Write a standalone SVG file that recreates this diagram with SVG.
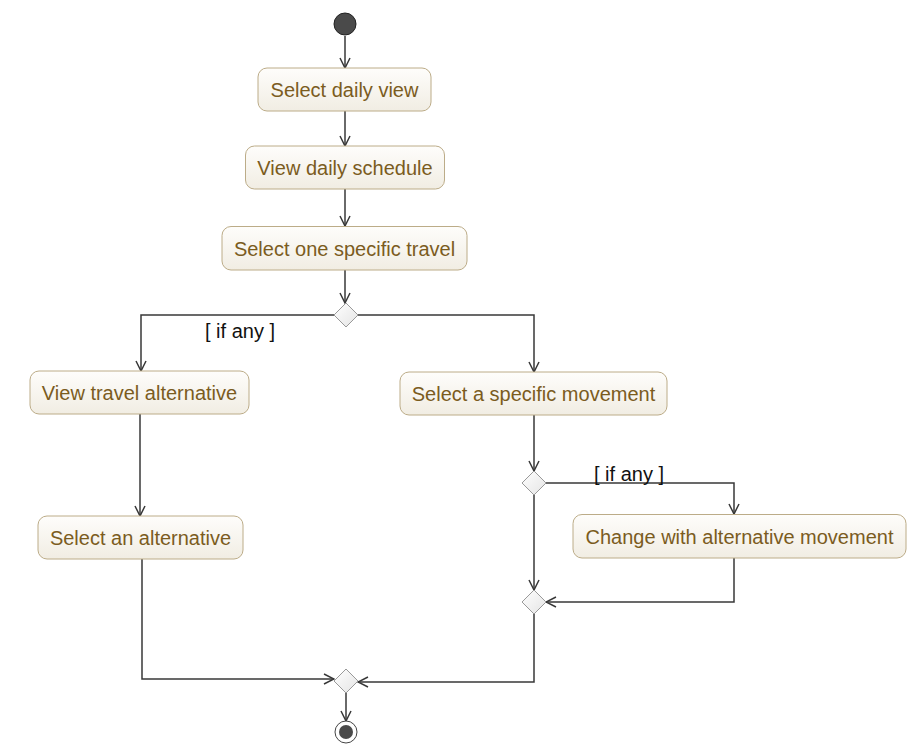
<svg xmlns="http://www.w3.org/2000/svg" width="923" height="756" viewBox="0 0 923 756">
<defs>
<linearGradient id="boxg" x1="0" y1="0" x2="0" y2="1">
<stop offset="0" stop-color="#fefdfb"/>
<stop offset="1" stop-color="#f1ede3"/>
</linearGradient>
<linearGradient id="diag" x1="0" y1="0" x2="1" y2="1">
<stop offset="0" stop-color="#ffffff"/>
<stop offset="1" stop-color="#e4e4e4"/>
</linearGradient>
<marker id="arr" viewBox="0 0 12 12" refX="11" refY="6" markerWidth="12" markerHeight="12" markerUnits="userSpaceOnUse" orient="auto">
<path d="M1,1 L11,6 L1,11" fill="none" stroke="#383838" stroke-width="1.5"/>
</marker>
<style>
.box{fill:url(#boxg);stroke:#bcac88;stroke-width:1}
.lbl{font-family:"Liberation Sans",Arial,sans-serif;font-size:20px;fill:#7b5c1e;text-anchor:middle}
.guard{font-family:"Liberation Sans",Arial,sans-serif;font-size:20px;fill:#111}
.dia{fill:url(#diag);stroke:#999;stroke-width:1}
.c{fill:none;stroke:#383838;stroke-width:1.5}
.ca{fill:none;stroke:#383838;stroke-width:1.5;marker-end:url(#arr)}
</style>
</defs>
<g id="connectors">
<path class="ca" d="M345,36 V68"/>
<path class="ca" d="M345,111 V146"/>
<path class="ca" d="M345,189 V226"/>
<path class="ca" d="M345,270 V303"/>
<path class="ca" d="M334,315 H141 V371"/>
<path class="ca" d="M358,315 H534 V372"/>
<path class="ca" d="M140,414 V516"/>
<path class="ca" d="M534,415 V471"/>
<path class="ca" d="M546,483 H734 V514"/>
<path class="ca" d="M534,495 V590"/>
<path class="ca" d="M734,558 V602 H546"/>
<path class="ca" d="M534,614 V682 H358"/>
<path class="ca" d="M142,559 V679 H334"/>
<path class="ca" d="M346,693 V721"/>
</g>
<g id="start"><circle cx="345" cy="24" r="11" fill="#4a4a4a" stroke="#222" stroke-width="1"/></g>
<g id="n1"><rect class="box" x="258" y="68" width="173" height="43" rx="9"/><text class="lbl" x="344.5" y="97">Select daily view</text></g>
<g id="n2"><rect class="box" x="245.5" y="146" width="199" height="43" rx="9"/><text class="lbl" x="345" y="175">View daily schedule</text></g>
<g id="n3"><rect class="box" x="222" y="226.5" width="245" height="43.5" rx="9"/><text class="lbl" x="344.5" y="255.5">Select one specific travel</text></g>
<g id="d1"><path class="dia" d="M346,303 L358,315 L346,327 L334,315 Z"/></g>
<text class="guard" x="205" y="338">[ if any ]</text>
<g id="n4"><rect class="box" x="30" y="371" width="219" height="43" rx="9"/><text class="lbl" x="139.5" y="400">View travel alternative</text></g>
<g id="n5"><rect class="box" x="400" y="372" width="267" height="43" rx="9"/><text class="lbl" x="533.5" y="401">Select a specific movement</text></g>
<g id="d2"><path class="dia" d="M534,471 L546,483 L534,495 L522,483 Z"/></g>
<text class="guard" x="594" y="481">[ if any ]</text>
<g id="n6"><rect class="box" x="38" y="516" width="205" height="43" rx="9"/><text class="lbl" x="140.5" y="545">Select an alternative</text></g>
<g id="n7"><rect class="box" x="573" y="514.5" width="333" height="43.5" rx="9"/><text class="lbl" x="739.5" y="543.5">Change with alternative movement</text></g>
<g id="m2"><path class="dia" d="M534,590 L546,602 L534,614 L522,602 Z"/></g>
<g id="m1"><path class="dia" d="M346,669 L358,681 L346,693 L334,681 Z"/></g>
<g id="end"><circle cx="346" cy="732" r="11" fill="#fff" stroke="#444" stroke-width="1"/><circle cx="346" cy="732" r="7" fill="#4a4a4a"/></g>
</svg>
